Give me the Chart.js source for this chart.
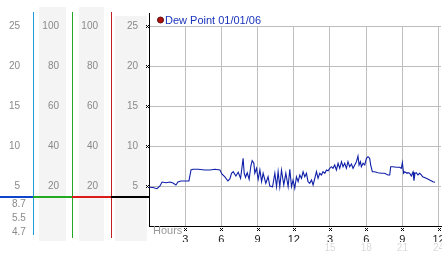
<!DOCTYPE html>
<html><head><meta charset="utf-8">
<script src="https://cdn.jsdelivr.net/npm/chart.js@4.4.1/dist/chart.umd.min.js"></script>
<style>html,body{margin:0;padding:0;background:#fff;overflow:hidden}</style>
</head><body>
<canvas id="c" width="442" height="253" style="display:block;width:442px;height:253px"></canvas>
<script>
const seriesLabel = 'Dew Point 01/01/06';
const hours = [0,0.33,0.66,0.91,1.08,1.41,1.74,1.99,2.23,2.40,2.65,2.98,3.31,3.48,3.64,4.06,4.63,5.05,5.46,5.88,6.04,6.29,6.54,6.70,
6.84,6.98,7.20,7.39,7.59,7.80,7.89,8.00,8.14,8.30,8.44,8.55,8.69,8.77,8.91,9.05,9.19,9.33,9.46,9.68,9.87,10.01,10.24,10.43,10.57,10.70,
10.84,10.98,11.17,11.34,11.53,11.67,11.81,11.94,12.08,12.22,12.36,12.50,12.64,12.77,12.91,13.05,13.18,13.32,13.47,13.60,13.74,13.88,
14.01,14.15,14.29,14.42,14.57,14.71,14.84,14.98,15.12,15.25,15.39,15.53,15.67,15.81,15.95,16.08,16.22,16.36,16.49,16.63,16.78,16.91,
17.05,17.19,17.32,17.41,17.52,17.60,17.74,17.88,18.02,18.15,18.29,18.37,18.51,18.70,18.98,19.26,19.53,19.81,19.95,20.03,20.22,20.50,
20.77,20.91,21.00,21.10,21.19,21.38,21.46,21.60,21.74,21.88,21.96,22.04,22.15,22.29,22.43,22.57,22.68,22.98,23.26,23.53,23.70];
const dewPoint = [4.84,4.81,4.66,5.0,5.5,5.41,5.5,5.38,5.13,5.5,5.63,5.63,5.63,7.0,7.09,7.09,7.0,7.0,7.09,7.0,6.5,6.13,5.63,5.88,
6.59,6.79,6.25,6.71,5.96,8.46,6.59,6.09,6.66,5.84,7.5,8.16,7.84,6.59,7.21,5.84,7.0,5.54,6.59,5.34,6.16,5.0,4.91,6.59,4.91,6.79,
4.91,7.0,5.13,6.59,4.91,7.09,4.91,5.75,4.71,6.16,5.54,6.38,5.96,6.79,6.16,6.59,5.54,5.34,5.75,5.13,5.96,6.79,
5.96,6.59,6.38,6.79,6.59,7.0,6.91,7.21,7.41,7.21,7.63,7.0,7.84,7.21,8.04,7.41,7.84,7.21,8.04,7.41,7.75,7.21,
7.63,8.04,8.75,7.63,8.04,7.41,7.84,7.63,8.46,8.66,8.46,7.63,6.79,6.79,6.66,6.59,6.59,6.38,6.38,7.41,7.41,7.34,
7.34,7.21,7.91,6.59,6.79,6.59,6.66,6.59,6.25,6.75,5.66,6.59,6.66,6.38,6.59,6.38,6.16,5.96,5.75,5.54,5.46];
const xTickLabels = ['3','6','9','12','3','6','9','12'];
const xTickLabels24 = ['','','','','15','18','21','24'];
const panelValues = ['8.7','5.5','4.7'];
const xAxisTitle = 'Hours';

const FONT = "'Liberation Sans', Arial, sans-serif";
const GREY = '#8a8a8a';

function noPad(s){ s.paddingLeft = 0; s.paddingRight = 0; s.paddingTop = 0; s.paddingBottom = 0; }
function leftAxis(max, step, weight, width, pad){
  return {
    type:'linear', position:'left', weight, min:0, max,
    ticks:{stepSize:step, includeBounds:false, padding:pad, color:GREY, font:{family:FONT,size:10},
      callback:v => v === 0 ? '' : String(v)},
    grid:{display:false, drawTicks:false}, border:{display:false},
    afterFit:s => { s.width = width; noPad(s); }
  };
}

const decor = {
  id:'decor',
  beforeDraw(chart){
    const c = chart.ctx;
    c.save();
    c.fillStyle = '#f4f4f4';
    c.fillRect(39,7,27,234);
    c.fillRect(79,7,25,234);
    c.fillRect(115,16,32,225);
    c.restore();
  },
  afterDraw(chart){
    const c = chart.ctx, ys = chart.scales.y, xs = chart.scales.x, a = chart.chartArea;
    c.save();
    c.fillStyle = '#1f9fd6'; c.fillRect(33,12,1,223);
    c.fillStyle = '#22a822'; c.fillRect(72,12,1,226);
    c.fillStyle = '#c02020'; c.fillRect(111,12,1,226);
    c.fillStyle = '#000'; c.fillRect(Math.round(a.left),13,1,Math.round(a.top)-13);
    const yl = 196;
    c.fillStyle = '#1144cc'; c.fillRect(0,yl,33,2);
    c.fillStyle = '#22aa22'; c.fillRect(33,yl,39,2);
    c.fillStyle = '#dd1a1a'; c.fillRect(72,yl,39,2);
    c.fillStyle = '#000'; c.fillRect(111,yl,38,2);
    c.fillStyle = GREY; c.font = '10px ' + FONT; c.textAlign = 'left'; c.textBaseline = 'middle';
    panelValues.forEach((t,i) => c.fillText(t, 12, 204 + i*14));
    c.fillStyle = '#000';
    const mark = (x,y) => { [[-1,-1],[1,-1],[0,0],[-1,1],[1,1]].forEach(p => c.fillRect(x+p[0],y+p[1],1,1)); };
    ys.ticks.forEach(t => { if (t.value > 0) mark(Math.round(a.left)-2, Math.round(ys.getPixelForValue(t.value))); });
    xs.ticks.forEach(t => { if (t.value > 0) mark(Math.round(xs.getPixelForValue(t.value)), 229); });
    c.fillStyle = '#999'; c.font = '11px ' + FONT; c.textAlign = 'left'; c.textBaseline = 'middle';
    c.fillText(xAxisTitle, Math.round(a.left)+4, 231);
    const ds = chart.data.datasets[0];
    c.beginPath(); c.arc(160.5,20,3,0,Math.PI*2); c.fillStyle = '#b01010'; c.fill();
    c.lineWidth = 1; c.strokeStyle = '#601010'; c.stroke();
    c.fillStyle = '#1a33bb'; c.font = '11px ' + FONT; c.textAlign = 'left'; c.textBaseline = 'middle';
    c.fillText(ds.label, 165, 20.5);
    c.restore();
  }
};

new Chart(document.getElementById('c'), {
  type:'line',
  plugins:[decor],
  data:{ datasets:[{
    label: seriesLabel,
    data: hours.map((h,i) => ({x:h, y:dewPoint[i]})),
    borderColor:'#0f1fa8', borderWidth:1.1, pointRadius:0, tension:0, fill:false,
    xAxisID:'x', yAxisID:'y'
  }]},
  options:{
    responsive:false, animation:false, devicePixelRatio:1,
    layout:{padding:{top:26,right:1,left:0,bottom:0}},
    plugins:{legend:{display:false}, tooltip:{enabled:false}},
    scales:{
      x:{type:'linear', position:'bottom', weight:0, min:0, max:24.2,
        ticks:{stepSize:3, includeBounds:false, autoSkip:false, maxRotation:0, padding:7, color:'#222',
          font:{family:FONT,size:11}, callback:v => (v>0 && v%3===0) ? (xTickLabels[v/3-1] || '') : ''},
        grid:{color:'#bdbdbd', drawTicks:false}, border:{color:'#000'},
        afterFit:s => { s.height = 16; noPad(s); }},
      x2:{type:'linear', position:'bottom', weight:1, min:0, max:24.2,
        ticks:{stepSize:3, includeBounds:false, autoSkip:false, maxRotation:0, padding:0, color:'#dadada',
          font:{family:FONT,size:10}, callback:v => (v>0 && v%3===0) ? (xTickLabels24[v/3-1] || '') : ''},
        grid:{display:false, drawTicks:false}, border:{display:false},
        afterFit:s => { s.height = 11; noPad(s); }},
      y:{type:'linear', position:'left', weight:0, min:0, max:25,
        ticks:{stepSize:5, includeBounds:false, padding:11, color:GREY, font:{family:FONT,size:10},
          callback:v => v === 0 ? '' : String(v)},
        grid:{color:'#bdbdbd', drawTicks:false}, border:{color:'#000'},
        afterFit:s => { s.width = 38; noPad(s); }},
      yC: leftAxis(100, 20, 1, 39, 13),
      yB: leftAxis(100, 20, 2, 39, 13),
      yA: leftAxis(25, 5, 3, 33, 13)
    }
  }
});
</script>
</body></html>
